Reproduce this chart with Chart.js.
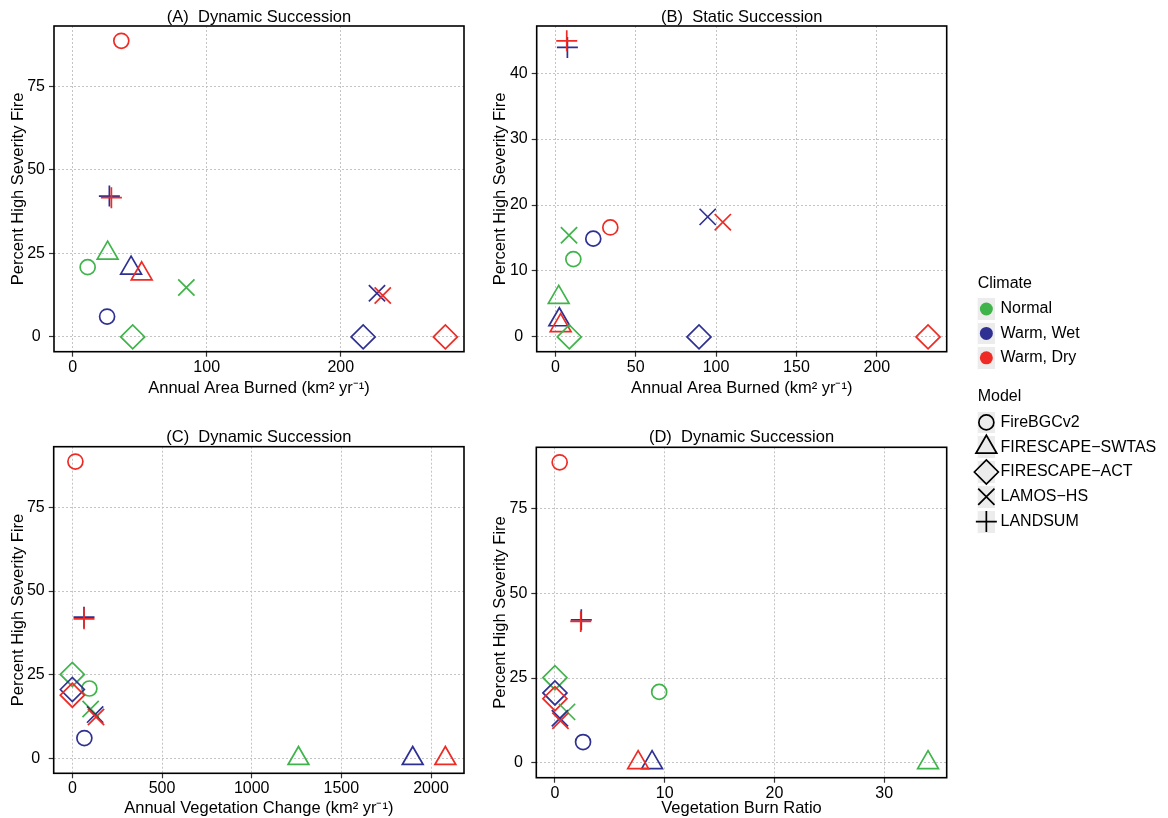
<!DOCTYPE html>
<html>
<head>
<meta charset="utf-8">
<script src="https://cdn.jsdelivr.net/npm/chart.js@4.4.0/dist/chart.umd.min.js"></script>
<style>
  body { margin: 0; background: #fff; }
  #wrap { position: relative; width: 1168px; height: 818px; }
  canvas { position: absolute; }
</style>
</head>
<body>
<div id="wrap">
  <canvas id="panelA" width="480" height="410" style="left:0;top:0"></canvas>
  <canvas id="panelB" width="480" height="410" style="left:480px;top:0"></canvas>
  <canvas id="panelC" width="480" height="408" style="left:0;top:410px"></canvas>
  <canvas id="panelD" width="480" height="408" style="left:480px;top:410px"></canvas>
  <canvas id="keyClimate" width="208" height="100" style="left:960px;top:270px"></canvas>
  <canvas id="keyModel" width="208" height="162" style="left:960px;top:380px"></canvas>
</div>
<script>
Chart.defaults.font.family = '"Liberation Sans", Arial, sans-serif';
Chart.defaults.font.size = 16;
Chart.defaults.color = '#000';

const climates = ['Normal', 'Warm, Wet', 'Warm, Dry'];
const models = ['FireBGCv2', 'FIRESCAPE\u2212SWTAS', 'FIRESCAPE\u2212ACT', 'LAMOS\u2212HS', 'LANDSUM'];

// rows = model (same order as models), columns = climate (Normal, Warm Wet, Warm Dry)
// (A) dynamic succession
const areaDynamic = [[11.2, 25.7, 36.3], [26.1, 43.6, 51.5], [44.8, 216.7, 278.0], [84.8, 227.0, 231.3], [null, 27.4, 28.9]];
const severityDynamic = [[20.9, 6.1, 88.7], [25.1, 20.6, 18.9], [0, 0, 0], [14.8, 13.1, 12.4], [null, 42.2, 41.7]];
// (B) static succession
const areaStatic = [[11.2, 23.6, 34.2], [2.1, 2.5, 3.3], [8.7, 89.4, 231.9], [8.5, 94.8, 104.2], [null, 7.5, 7.1]];
const severityStatic = [[11.8, 14.9, 16.6], [6.0, 2.6, 1.7], [0, 0, 0], [15.4, 18.2, 17.4], [null, 43.9, 44.9]];
// (C) vegetation change
const vegChange = [[95, 67, 17], [1261, 1898, 2080], [0, 0, 0], [102, 127, 132], [null, 65, 65]];
const severityVeg = [[20.9, 6.1, 88.7], [0, 0, 0], [25.1, 20.6, 18.9], [14.8, 13.1, 12.4], [null, 42.2, 41.7]];
// (D) vegetation burn ratio
const burnRatio = [[9.5, 2.56, 0.43], [34.0, 8.85, 7.58], [0, 0, 0], [1.1, 0.45, 0.5], [null, 2.4, 2.35]];
const severityRatio = [[20.9, 6.1, 88.7], [0, 0, 0], [25.1, 20.6, 18.9], [15.0, 13.1, 12.4], [null, 42.2, 41.7]];

const colors = ['#3fb44a', '#2e3192', '#ee2b24'];
const shapes = ['circle', 'triangle', 'rectRot', 'crossRot', 'cross'];
const sizes = [7.5, 12, 12, 11.5, 10.5];

// ggplot-like limits: data range (incl. 0) plus 5% each side
function limits(vals) {
  const v = vals.flat().filter(d => d !== null);
  const lo = Math.min(0, ...v), hi = Math.max(...v);
  const pad = (hi - lo) * 0.05;
  return [lo - pad, hi + pad];
}

// multiples of step inside the axis range
function stepTicks(step) {
  return s => {
    const out = [];
    for (let v = Math.ceil(s.min / step) * step; v <= s.max; v += step) out.push({ value: v });
    s.ticks = out;
  };
}

const boxPlugin = {
  id: 'box',
  beforeDatasetsDraw(chart) {
    const a = chart.chartArea, ctx = chart.ctx;
    ctx.save();
    ctx.strokeStyle = '#000';
    ctx.lineWidth = 1.6;
    ctx.strokeRect(a.left, a.top, a.right - a.left, a.bottom - a.top);
    ctx.restore();
  }
};

const keyBgPlugin = {
  id: 'keyBg',
  beforeDraw(chart) {
    const a = chart.chartArea, ctx = chart.ctx;
    ctx.save();
    ctx.fillStyle = '#ececec';
    ctx.fillRect(a.left, a.top, a.right - a.left, a.bottom - a.top);
    ctx.restore();
  }
};

function panel(id, title, xLabel, xs, ys, xStep, yStep, g) {
  const [xMin, xMax] = limits(xs);
  const [yMin, yMax] = limits(ys);
  const datasets = models.map((m, i) => ({
    label: m,
    data: xs[i].map((x, j) => ({ x: x, y: ys[i][j] })),
    pointStyle: shapes[i],
    pointRadius: sizes[i],
    pointBorderColor: colors,
    pointBackgroundColor: 'rgba(0,0,0,0)',
    pointBorderWidth: 1.7,
    showLine: false,
    clip: false
  })).reverse();

  const grid = { color: '#c4c4c4', tickColor: '#333', tickLength: 5, tickWidth: 1.2, tickBorderDash: [] };
  const titleFont = { size: 16.5 };

  new Chart(document.getElementById(id), {
    type: 'scatter',
    data: { datasets: datasets },
    options: {
      responsive: false,
      animation: false,
      events: [],
      layout: { autoPadding: false, padding: { left: 0, right: g.rPad, top: 0, bottom: 0 } },
      plugins: {
        legend: { display: false },
        tooltip: { enabled: false },
        title: {
          display: true, text: title, fullSize: false, color: '#000',
          font: { size: 16.5, weight: 'normal', lineHeight: 1 },
          padding: { top: g.tTop, bottom: g.tBot }
        }
      },
      scales: {
        x: {
          type: 'linear', min: xMin, max: xMax,
          afterBuildTicks: stepTicks(xStep),
          ticks: { padding: 1, maxRotation: 0, autoSkip: false, callback: v => String(v) },
          grid: grid,
          border: { display: false, dash: [2, 2] },
          title: { display: true, text: xLabel, font: titleFont, padding: { top: 0, bottom: g.xtPad } },
          afterFit: s => { s.height = g.xh; }
        },
        y: {
          type: 'linear', min: yMin, max: yMax,
          afterBuildTicks: stepTicks(yStep),
          ticks: { padding: 4, crossAlign: 'center', autoSkip: false, callback: v => String(v) },
          grid: grid,
          border: { display: false, dash: [2, 2] },
          title: { display: true, text: 'Percent High Severity Fire', font: titleFont, padding: { top: g.ytPad, bottom: 0 } },
          afterFit: s => { s.width = g.yw; }
        }
      }
    },
    plugins: [boxPlugin]
  });
}

const burnedLabel = 'Annual Area Burned (km\u00b2 yr\u207b\u00b9)';
panel('panelA', '(A)  Dynamic Succession', burnedLabel, areaDynamic, severityDynamic, 100, 25,
  { yw: 54, rPad: 16, tTop: 9.1, tBot: 0.4, xh: 58.3, xtPad: 11.8, ytPad: 8.4 });
panel('panelB', '(B)  Static Succession', burnedLabel, areaStatic, severityStatic, 50, 10,
  { yw: 56.7, rPad: 13.3, tTop: 9.1, tBot: 0.4, xh: 58.3, xtPad: 11.8, ytPad: 10.1 });
panel('panelC', '(C)  Dynamic Succession', 'Annual Vegetation Change (km\u00b2 yr\u207b\u00b9)', vegChange, severityVeg, 500, 25,
  { yw: 53.7, rPad: 16, tTop: 19.5, tBot: 0.7, xh: 44.7, xtPad: 0, ytPad: 8.4 });
panel('panelD', '(D)  Dynamic Succession', 'Vegetation Burn Ratio', burnRatio, severityRatio, 10, 25,
  { yw: 56.3, rPad: 13.3, tTop: 19.5, tBot: 1.3, xh: 40.3, xtPad: 0, ytPad: 10.1 });

function keyChart(id, title, labels, styles, radii, fills, strokes, lw, g) {
  new Chart(document.getElementById(id), {
    type: 'scatter',
    data: {
      datasets: [{
        data: labels.map(l => ({ x: 0, y: l })),
        pointStyle: styles,
        pointRadius: radii,
        pointBackgroundColor: fills,
        pointBorderColor: strokes,
        pointBorderWidth: lw,
        clip: false
      }]
    },
    options: {
      responsive: false,
      animation: false,
      events: [],
      layout: { autoPadding: false, padding: { left: 17.7, right: 0, top: 0, bottom: g.bottom } },
      plugins: {
        legend: { display: false },
        tooltip: { enabled: false },
        title: {
          display: true, text: title, align: 'start', color: '#000',
          font: { size: 16, weight: 'normal', lineHeight: 1.2 },
          padding: { top: g.tTop, bottom: g.tBot }
        }
      },
      scales: {
        x: { type: 'linear', min: -1, max: 1, display: false },
        y: {
          type: 'category', labels: labels, position: 'right', offset: true,
          grid: { offset: true, color: '#fff', lineWidth: 3, drawTicks: false },
          border: { display: false },
          ticks: { padding: 5.5, autoSkip: false },
          afterFit: s => {
            s.width = 208 - 17.7 - 17.3;
            s.paddingTop = 0;
            s.paddingBottom = 0;
          }
        }
      }
    },
    plugins: [keyBgPlugin]
  });
}

keyChart('keyClimate', 'Climate', climates, 'circle', 6.5, colors, colors, 0,
  { bottom: 0, tTop: 4.4, tBot: 3.2 });
keyChart('keyModel', 'Model', models, shapes, sizes, 'rgba(0,0,0,0)', '#000', 1.7,
  { bottom: 8, tTop: 7.1, tBot: 3.7 });
</script>
</body>
</html>
